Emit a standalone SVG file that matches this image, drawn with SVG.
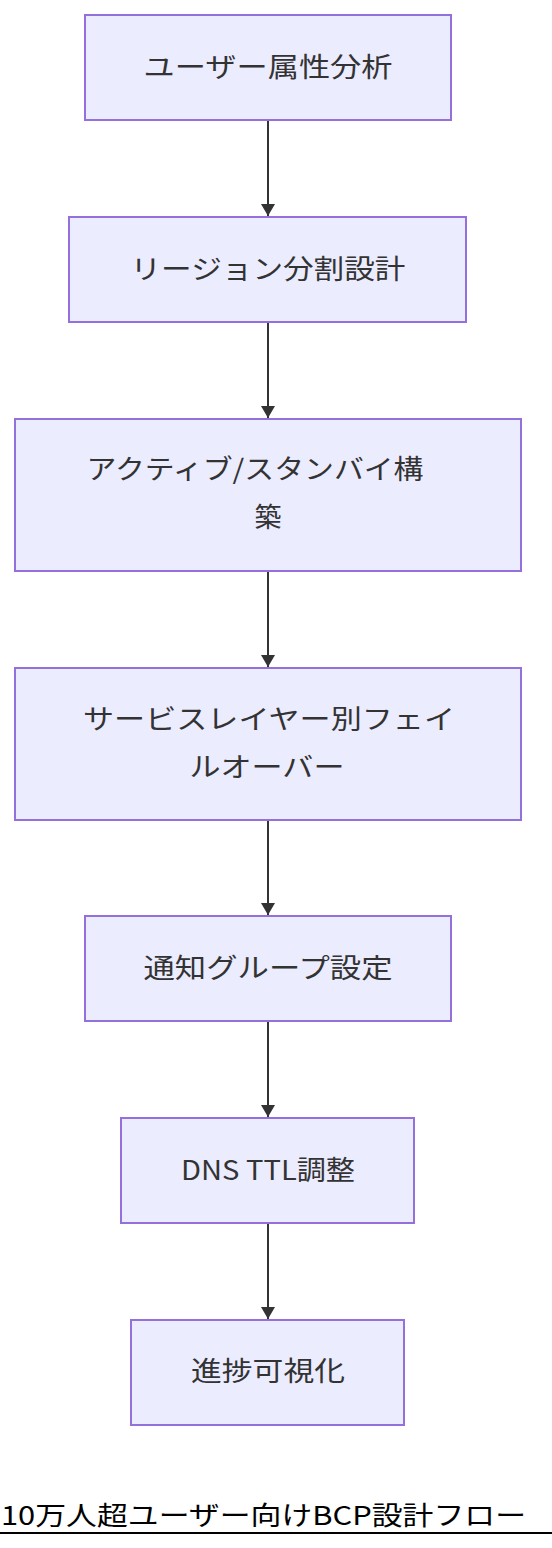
<svg xmlns="http://www.w3.org/2000/svg" width="552" height="1548" viewBox="0 0 552 1548">
<style>
.node rect{fill:#ECECFF;stroke:#9370DB;stroke-width:2}
.node text{font-family:"Noto Sans CJK JP","Noto Sans",sans-serif;font-size:27px;fill:#333;text-anchor:middle;dominant-baseline:central}
.edge{stroke:#333;stroke-width:2;fill:none}
.title{font-family:"Noto Sans CJK JP","Noto Sans",sans-serif;font-size:26px;fill:#000}
</style>
<defs>
<marker id="a2" viewBox="0 0 12 14" refX="12" refY="7" markerWidth="12" markerHeight="14" markerUnits="userSpaceOnUse" orient="auto">
<path d="M0,0 L12,7 L0,14 z" fill="#333"/>
</marker>
</defs>
<rect width="552" height="1548" fill="#fff"/>
<g id="edges">
<path class="edge" d="M268,120 V216" marker-end="url(#a2)"/>
<path class="edge" d="M268,322 V418" marker-end="url(#a2)"/>
<path class="edge" d="M268,571 V667" marker-end="url(#a2)"/>
<path class="edge" d="M268,820 V915" marker-end="url(#a2)"/>
<path class="edge" d="M268,1021 V1117" marker-end="url(#a2)"/>
<path class="edge" d="M268,1223 V1319" marker-end="url(#a2)"/>
</g>
<g id="n1" class="node"><rect x="85" y="15" width="366" height="105"/><text x="268" y="65" textLength="249" lengthAdjust="spacingAndGlyphs">ユーザー属性分析</text></g>
<g id="n2" class="node"><rect x="69" y="217" width="397" height="105"/><text x="268" y="267" textLength="275" lengthAdjust="spacingAndGlyphs">リージョン分割設計</text></g>
<g id="n3" class="node"><rect x="15" y="419" width="506" height="152"/><text x="255" y="467" textLength="337" lengthAdjust="spacingAndGlyphs">アクティブ/スタンバイ構</text><text x="268" y="515">築</text></g>
<g id="n4" class="node"><rect x="15" y="668" width="506" height="152"/><text x="269" y="717" textLength="372" lengthAdjust="spacingAndGlyphs">サービスレイヤー別フェイ</text><text x="267" y="765" textLength="155" lengthAdjust="spacingAndGlyphs">ルオーバー</text></g>
<g id="n5" class="node"><rect x="85" y="916" width="366" height="105"/><text x="268" y="966" textLength="249" lengthAdjust="spacingAndGlyphs">通知グループ設定</text></g>
<g id="n6" class="node"><rect x="121" y="1118" width="293" height="105"/><text x="268" y="1168" textLength="174" lengthAdjust="spacingAndGlyphs">DNS TTL調整</text></g>
<g id="n7" class="node"><rect x="131" y="1320" width="273" height="105"/><text x="268" y="1369" textLength="154" lengthAdjust="spacingAndGlyphs">進捗可視化</text></g>
<g id="title"><text class="title" x="1" y="1525" textLength="525" lengthAdjust="spacingAndGlyphs">10万人超ユーザー向けBCP設計フロー</text><line x1="0" y1="1533" x2="552" y2="1533" stroke="#000" stroke-width="2"/></g>
</svg>
